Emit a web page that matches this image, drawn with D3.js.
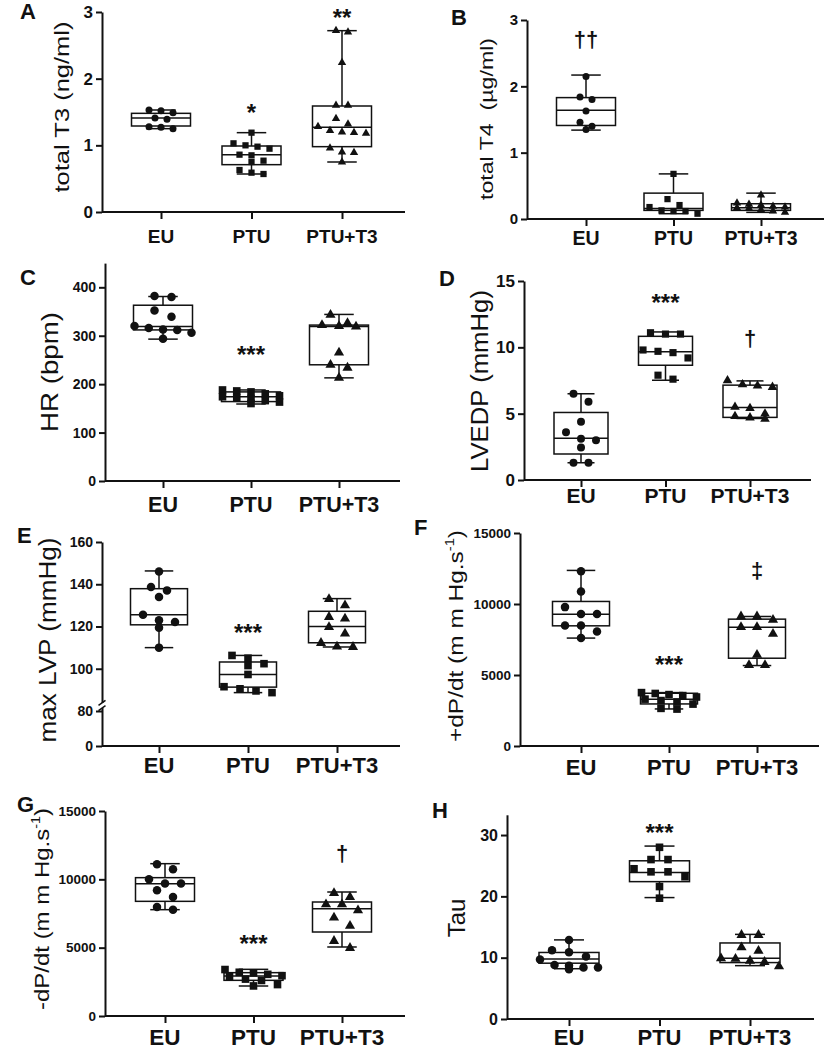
<!DOCTYPE html>
<html>
<head>
<meta charset="utf-8">
<script src="https://cdn.jsdelivr.net/npm/d3@7"></script>
<style>
body { margin: 0; background: #fff; }
text { font-family: "Liberation Sans", Arial, sans-serif; fill: #111; }
</style>
</head>
<body>
<svg id="fig" width="827" height="1050"></svg>
<script>
///// *** DATA *** /////
var groups = ['EU', 'PTU', 'PTU+T3'];

// every box is [min, q1, median, q3, max], points are the single animals
// A - total T3 (ng/ml)
var t3Box = [[1.25, 1.29, 1.41, 1.48, 1.53], [0.57, 0.71, 0.86, 0.99, 1.19], [0.75, 0.98, 1.27, 1.59, 2.72]];
var t3Pts = [[1.53, 1.52, 1.49, 1.41, 1.39, 1.28, 1.27, 1.25],
             [1.19, 1.03, 1.00, 0.98, 0.95, 0.86, 0.85, 0.77, 0.75, 0.63, 0.59, 0.57],
             [2.72, 2.70, 2.24, 1.60, 1.60, 1.40, 1.32, 1.28, 1.22, 1.20, 1.19, 1.18, 0.96, 0.90, 0.89, 0.75]];
var t3Ticks = [0, 1, 2, 3];
var t3Sig = [['PTU', '*', 1.575], ['PTU+T3', '**', 3.0]];

// B - total T4 (ug/ml)
var t4Box = [[1.34, 1.41, 1.64, 1.83, 2.17], [0.08, 0.13, 0.16, 0.39, 0.68], [0.10, 0.13, 0.17, 0.23, 0.39]];
var t4Pts = [[2.15, 1.84, 1.80, 1.63, 1.46, 1.40, 1.35],
             [0.68, 0.30, 0.21, 0.18, 0.13, 0.12, 0.12, 0.08],
             [0.36, 0.24, 0.22, 0.21, 0.19, 0.18, 0.17, 0.16, 0.14, 0.12, 0.10]];
var t4Ticks = [0, 1, 2, 3];
var t4Sig = [['EU', '††', 2.70]];

// C - heart rate (bpm)
var hrBox = [[293, 312, 319, 363, 381], [159, 164, 174, 184, 188], [213, 240, 319, 322, 344]];
var hrPts = [[382, 380, 352, 339, 320, 316, 313, 312, 306, 294],
             [188, 186, 184, 180, 176, 174, 172, 170, 166, 163, 160],
             [343, 326, 322, 320, 319, 265, 240, 234, 213]];
var hrTicks = [0, 100, 200, 300, 400];
var hrSig = [['PTU', '***', 272]];

// D - LVEDP (mmHg)
var lvedpBox = [[1.3, 1.96, 3.14, 5.09, 6.5], [7.52, 8.65, 9.66, 10.83, 11.16], [4.64, 4.72, 5.47, 7.15, 7.47]];
var lvedpPts = [[6.5, 5.9, 4.4, 3.6, 3.1, 3.0, 2.45, 1.3, 1.3],
                [11.1, 11.0, 11.0, 9.8, 9.7, 9.6, 9.2, 7.9, 7.6],
                [7.5, 7.2, 7.1, 7.0, 5.5, 5.4, 5.0, 4.8, 4.7, 4.6]];
var lvedpTicks = [0, 5, 10, 15];
var lvedpSig = [['PTU', '***', 13.75], ['PTU+T3', '†', 10.6]];

// E - max LVP (mmHg), broken axis
var lvpBox = [[110, 120.8, 125.6, 137.9, 146.3], [88.7, 91.3, 97.3, 103.2, 106.3], [110.3, 112.3, 120, 127.2, 133.2]];
var lvpPts = [[146, 138.7, 137.1, 134, 125.6, 122.9, 122.1, 119.4, 110],
              [106.3, 105, 102.4, 101.5, 97.3, 91.5, 90.5, 89.5, 88.7],
              [133, 130, 124.5, 123.7, 119.7, 116.6, 112.2, 110.5, 110.3]];
var lvpTicks = [0, 80, 100, 120, 140, 160];
var lvpSig = [['PTU', '***', 119.5]];

// F - +dP/dt
var dpMaxBox = [[7600, 8463, 9286, 10179, 12365], [2609, 2962, 3291, 3714, 3761], [5665, 6182, 8369, 8933, 9121]];
var dpMaxPts = [[12300, 10880, 9780, 9290, 9290, 8490, 8490, 8060, 7600],
                [3760, 3700, 3620, 3550, 3450, 3300, 3200, 3100, 2950, 2650, 2600],
                [9120, 9120, 8890, 8370, 8370, 7900, 6420, 5700, 5700]];
var dpMaxSig = [['PTU', '***', 6127], ['PTU+T3', '‡', 12324]];

// G - -dP/dt
var dpMinBox = [[7780, 8390, 9683, 10122, 11146], [2195, 2610, 2927, 3171, 3415], [5049, 6146, 7854, 8341, 9073]];
var dpMinPts = [[11100, 10730, 10000, 9700, 9700, 9200, 8700, 7980, 7780],
                [3400, 3200, 3150, 3050, 2950, 2900, 2700, 2600, 2300, 2200],
                [9000, 8700, 8170, 8170, 7730, 7200, 6590, 5490, 4980]];
var dpTicks = [0, 5000, 10000, 15000];
var dpMinSig = [['PTU', '***', 5670], ['PTU+T3', '†', 11850]];

// H - Tau
var tauBox = [[8.2, 9.1, 9.8, 10.85, 12.9], [19.8, 22.4, 23.9, 25.8, 28.2], [8.7, 9.2, 9.9, 12.4, 13.8]];
var tauPts = [[12.9, 11.2, 10.9, 10.2, 9.7, 8.8, 8.7, 8.4, 8.4, 8.1],
              [28.0, 26.0, 26.0, 24.5, 24.0, 24.0, 23.2, 21.6, 19.7],
              [13.7, 13.7, 11.7, 11.1, 9.9, 9.8, 9.5, 9.3, 8.6]];
var tauTicks = [0, 10, 20, 30];
var tauSig = [['PTU', '***', 31.2]];

///// *** LAYOUT *** /////
var panels = [
  {letter: 'A', lx: 20, ly: 19, box: t3Box, pts: t3Pts, ticks: t3Ticks, sig: t3Sig,
   ydom: [0, 3], yr: [212, 12], ax: 102, right: 405, cx: [161, 342], bw: 59, ms: 7, sp: 12,
   tickFs: 17, catFs: 19, catY: 243, label: 'total T3 (ng/ml)', labX: 63.5, labY: 107, labLen: 171, labFs: 19.5},
  {letter: 'B', lx: 451, ly: 25, box: t4Box, pts: t4Pts, ticks: t4Ticks, sig: t4Sig,
   ydom: [0, 3], yr: [219, 20], ax: 527, right: 824, cx: [586, 761], bw: 59, ms: 7, sp: 12,
   tickFs: 15, catFs: 19.5, catY: 245, label: 'total T4\u00a0\u00a0(\u00b5g/ml)', labX: 487, labY: 119, labLen: 162, labFs: 18.5},
  {letter: 'C', lx: 20, ly: 285, box: hrBox, pts: hrPts, ticks: hrTicks, sig: hrSig,
   ydom: [0, 450], yr: [481, 263.1], ax: 105, right: 400, cx: [163, 339], bw: 59, ms: 8.5, sp: 17,
   tickFs: 14, catFs: 21.5, catY: 512, label: 'HR (bpm)', labX: 51, labY: 372, labLen: 120, labFs: 24},
  {letter: 'D', lx: 439, ly: 286, box: lvedpBox, pts: lvedpPts, ticks: lvedpTicks, sig: lvedpSig,
   ydom: [0, 15], yr: [480, 281], ax: 524, right: 811, cx: [581, 750], bw: 54, ms: 8, sp: 15,
   tickFs: 17, catFs: 21, catY: 503, label: 'LVEDP (mmHg)', labX: 481.5, labY: 381, labLen: 182, labFs: 23},
  {letter: 'E', lx: 17, ly: 543, box: lvpBox, pts: lvpPts, ticks: lvpTicks, sig: lvpSig,
   ydom: [0, 80, 160], yr: [746, 711, 542], ax: 102, right: 400, cx: [159, 337], bw: 57, ms: 8.5, sp: 16,
   tickFs: 14, catFs: 22, catY: 773, label: 'max LVP (mmHg)', labX: 49, labY: 640, labLen: 205, labFs: 23,
   brk: [81.4, 83.8]},
  {letter: 'F', lx: 414, ly: 535, box: dpMaxBox, pts: dpMaxPts, ticks: dpTicks, sig: dpMaxSig,
   ydom: [0, 15000], yr: [746, 533], ax: 520, right: 819, cx: [581, 757], bw: 57, ms: 8.5, sp: 16,
   tickFs: 13.5, catFs: 22, catY: 775, label: '+dP/dt (m m Hg.s', sup: '-1', labX: 457, labY: 636, labLen: 212, labFs: 21},
  {letter: 'G', lx: 17, ly: 812, box: dpMinBox, pts: dpMinPts, ticks: dpTicks, sig: dpMinSig,
   ydom: [0, 15000], yr: [1016, 811], ax: 105, right: 405, cx: [165, 342], bw: 59, ms: 8.5, sp: 16,
   tickFs: 13.5, catFs: 22.5, catY: 1045, label: '-dP/dt (m m Hg.s', sup: '-1', labX: 42.5, labY: 909, labLen: 202, labFs: 21},
  {letter: 'H', lx: 432, ly: 818, box: tauBox, pts: tauPts, ticks: tauTicks, sig: tauSig,
   ydom: [0, 33.3], yr: [1019, 814.8], ax: 507, right: 814, cx: [569, 750], bw: 60, ms: 8.5, sp: 17,
   tickFs: 16, catFs: 22, catY: 1045, label: 'Tau', labX: 458, labY: 918, labLen: null, labFs: 24}
];

var shapes = [d3.symbolCircle, d3.symbolSquare, d3.symbolTriangle];
var ink = '#111';
var maxRow = 5;

var svg = d3.select('#fig');
svg.append('rect').attr('width', 827).attr('height', 1050).attr('fill', '#fff');

panels.forEach(drawPanel);

///// *** HELPERS *** /////
//spreads points that sit at nearly the same height into centred rows
function swarm(vals, y, rowH, sp, bw){
  var sorted = vals.slice().sort(d3.descending),
      rows = [],
      cur = null;
  sorted.forEach(function(v){
    var py = y(v);
    if (!cur || py - cur.y0 > rowH || cur.items.length >= maxRow) {
      cur = {y0: py, items: []};
      rows.push(cur);
    }
    cur.items.push(py);
  });
  var out = [];
  rows.forEach(function(r){
    var n = r.items.length,
        s = n > 1 ? Math.min(sp, (bw - 2) / (n - 1)) : 0;
    r.items.forEach(function(py, i){
      out.push({dx: (i - (n - 1) / 2) * s, y: py});
    });
  });
  return out;
}

function symSize(i, d){
  if (i === 0) return Math.PI * d * d / 4;
  if (i === 1) return d * d * 0.8;
  return d * d * 0.62;
}

function drawPanel(p){
  var g = svg.append('g');
  var y = d3.scaleLinear().domain(p.ydom).range(p.yr);
  var x = d3.scalePoint().domain(groups).range(p.cx);
  var y0 = y(0);

  //x axis
  g.append('line')
    .attr('x1', p.ax).attr('x2', p.right)
    .attr('y1', y0).attr('y2', y0)
    .attr('stroke', ink).attr('stroke-width', 2);
  var xa = g.append('g')
    .attr('transform', 'translate(0,' + y0 + ')')
    .call(d3.axisBottom(x).tickSize(7).tickSizeOuter(0).tickFormat(''));
  xa.select('.domain').remove();
  xa.selectAll('line').attr('stroke', ink).attr('stroke-width', 2);
  g.selectAll('.cat').data(groups).enter().append('text')
    .attr('x', function(d) { return x(d); })
    .attr('y', p.catY)
    .attr('text-anchor', 'middle')
    .attr('font-size', p.catFs)
    .attr('font-weight', 'bold')
    .text(function(d) { return d; });

  //y axis
  var ya = g.append('g')
    .attr('transform', 'translate(' + p.ax + ',0)')
    .call(d3.axisLeft(y).tickValues(p.ticks).tickSize(6).tickSizeOuter(0)
      .tickPadding(3).tickFormat(d3.format('d')));
  ya.select('.domain').attr('stroke', ink).attr('stroke-width', 2);
  ya.selectAll('.tick line').attr('stroke', ink).attr('stroke-width', 2);
  ya.selectAll('.tick text')
    .attr('font-size', p.tickFs)
    .attr('font-weight', 'bold');

  //axis break marks
  if (p.brk) {
    var b0 = y(p.brk[0]), b1 = y(p.brk[1]);
    g.append('rect')
      .attr('x', p.ax - 2).attr('y', b1)
      .attr('width', 4).attr('height', b0 - b1)
      .attr('fill', '#fff');
    [b0, b1].forEach(function(by){
      g.append('line')
        .attr('x1', p.ax - 3.5).attr('y1', by + 2.5)
        .attr('x2', p.ax + 3.5).attr('y2', by - 2.5)
        .attr('stroke', ink).attr('stroke-width', 1.5);
    });
  }

  //boxes, min to max whiskers
  var bw = p.bw, cw = bw * 0.5;
  p.box.forEach(function(b, i){
    var cx = x(groups[i]);
    var bg = g.append('g').attr('stroke', ink).attr('stroke-width', 1.5).attr('fill', 'none');
    bg.append('rect')
      .attr('x', cx - bw / 2).attr('y', y(b[3]))
      .attr('width', bw).attr('height', y(b[1]) - y(b[3]));
    bg.append('line')
      .attr('x1', cx - bw / 2).attr('x2', cx + bw / 2)
      .attr('y1', y(b[2])).attr('y2', y(b[2]));
    bg.append('line').attr('x1', cx).attr('x2', cx).attr('y1', y(b[4])).attr('y2', y(b[3]));
    bg.append('line').attr('x1', cx).attr('x2', cx).attr('y1', y(b[1])).attr('y2', y(b[0]));
    [b[0], b[4]].forEach(function(v){
      bg.append('line')
        .attr('x1', cx - cw / 2).attr('x2', cx + cw / 2)
        .attr('y1', y(v)).attr('y2', y(v));
    });
  });

  //points
  p.pts.forEach(function(vals, i){
    var cx = x(groups[i]);
    var sym = d3.symbol().type(shapes[i]).size(symSize(i, p.ms));
    g.selectAll('.pt' + i)
      .data(swarm(vals, y, p.ms, p.sp, bw))
      .enter().append('path')
      .attr('d', sym)
      .attr('fill', ink)
      .attr('transform', function(q) { return 'translate(' + (cx + q.dx) + ',' + q.y + ')'; });
  });

  //significance marks
  p.sig.forEach(function(s){
    var star = s[1].indexOf('*') >= 0,
        fs = star ? 24 : 22;
    g.append('text')
      .attr('x', x(s[0]))
      .attr('y', y(s[2]) + (star ? 0.57 : 0.3) * fs)
      .attr('text-anchor', 'middle')
      .attr('font-size', fs)
      .attr('font-weight', 'bold')
      .text(s[1]);
  });

  //panel letter
  g.append('text')
    .attr('x', p.lx).attr('y', p.ly)
    .attr('font-size', 22).attr('font-weight', 'bold')
    .text(p.letter);

  //y label
  var t = g.append('text')
    .attr('transform', 'translate(' + p.labX + ',' + p.labY + ') rotate(-90)')
    .attr('text-anchor', 'middle')
    .attr('dy', '0.3em')
    .attr('font-size', p.labFs);
  t.append('tspan').text(p.label);
  if (p.sup) {
    var sh = p.labFs * 0.42;
    t.append('tspan').attr('dy', -sh).attr('font-size', p.labFs * 0.6).text(p.sup);
    t.append('tspan').attr('dy', sh).text(')');
  }
  if (p.labLen) t.attr('textLength', p.labLen).attr('lengthAdjust', 'spacingAndGlyphs');
}
</script>
</body>
</html>
